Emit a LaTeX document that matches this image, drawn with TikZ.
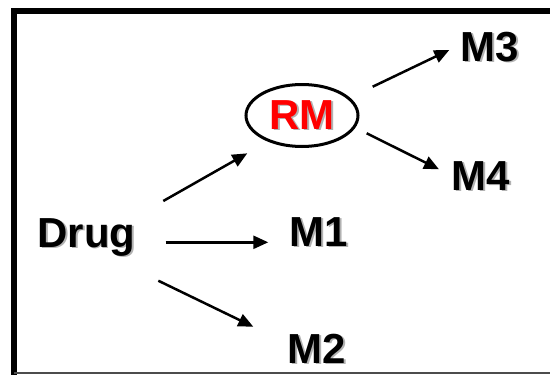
\documentclass[tikz,border=0pt]{standalone}
\usepackage{fontspec}
\setmainfont{Liberation Sans}
\usetikzlibrary{arrows.meta,shapes.geometric}
\newcommand\shadtext[1]{\rlap{\kern1.8pt\raisebox{-1.8pt}{\color{black!30}#1}}#1}
\tikzset{
  lbl/.style={anchor=base, inner sep=0pt, font=\fontsize{42}{42}\selectfont\bfseries},
  conn/.style={line width=2.5pt, -{Triangle[length=15pt,width=13pt]}},
  frame/.style={line width=5.5pt, line join=miter},
}
\begin{document}
\begin{tikzpicture}[x=1pt,y=-1pt]
\useasboundingbox (0,0) rectangle (550,375);
\draw[frame] (14,380) -- (14,11) -- (560,11);
\draw[black!70, line width=1.2pt] (14,373) -- (555,373);

\node[lbl] (drug) at (86.5,247) {\shadtext{Drug}};
\node[lbl] (m1) at (319,246) {\shadtext{M1}};
\node[lbl] (m2) at (317,363) {\shadtext{M2}};
\node[lbl] (m3) at (490,61) {\shadtext{M3}};
\node[lbl] (m4) at (481,190) {\shadtext{M4}};
\node[ellipse, draw, line width=3pt, minimum width=112pt, minimum height=62pt, inner sep=0pt,
      text=red, font=\fontsize{42}{42}\selectfont\bfseries] (rm) at (302,115.5) {\shadtext{RM}};

\coordinate (a1s) at (163.3,201);   \coordinate (a1e) at (247.3,153.3);
\coordinate (a2s) at (165.7,242.3); \coordinate (a2e) at (268.3,242.3);
\coordinate (a3s) at (158.3,280.7); \coordinate (a3e) at (253.3,326.7);
\coordinate (a4s) at (372.7,86.7);  \coordinate (a4e) at (449.3,50);
\coordinate (a5s) at (366.7,133.3); \coordinate (a5e) at (439,169.3);

\draw[conn] (a1s) -- (a1e);
\draw[conn] (a2s) -- (a2e);
\draw[conn] (a3s) -- (a3e);
\draw[conn] (a4s) -- (a4e);
\draw[conn] (a5s) -- (a5e);
\end{tikzpicture}
\end{document}
